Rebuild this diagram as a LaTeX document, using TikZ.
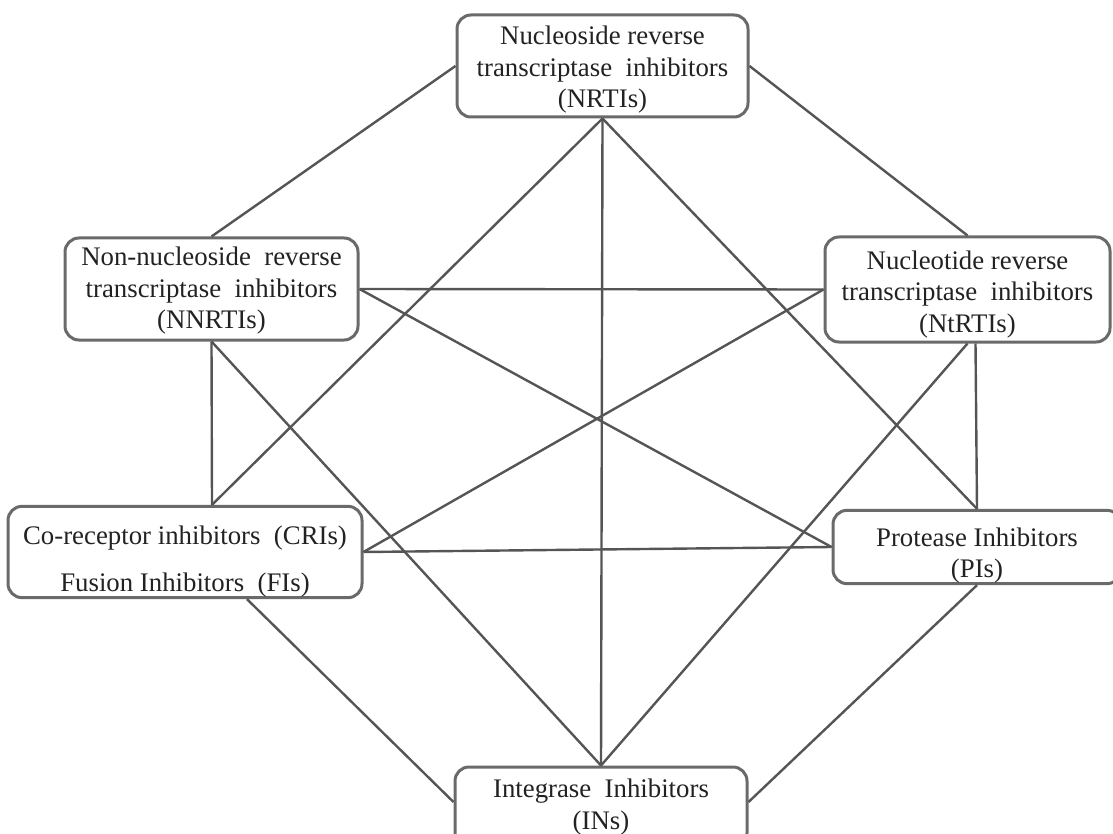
\documentclass[tikz,border=0pt]{standalone}
\usepackage{fontspec}
\setmainfont{Liberation Serif}
\definecolor{boxgray}{HTML}{6A6A6A}
\definecolor{linegray}{HTML}{555555}
\definecolor{txtgray}{HTML}{222222}
\newcommand{\lift}[1]{\rule{0pt}{#1}}
\tikzset{
  drug/.style={draw=boxgray, line width=1.5pt, rounded corners=7pt, align=center,
    inner sep=0pt, text=txtgray, font=\fontsize{13.4}{15.8}\selectfont},
  link/.style={draw=linegray, line width=1.2pt}
}
\begin{document}
\begin{tikzpicture}[x=0.5pt, y=-0.5pt]
                    \useasboundingbox (0,0) rectangle (1113,834);
                    % Boxes
                    \node[drug, minimum width=145.5pt, minimum height=51pt] (nrti) at (602.5,66) {\lift{13pt}Nucleoside reverse\\transcriptase~ inhibitors\\(NRTIs)};
                    \node[drug, minimum width=146.5pt, minimum height=51pt] (nnrti) at (211.5,289) {\lift{11pt}Non-nucleoside~ reverse\\transcriptase~ inhibitors\\(NNRTIs)};
                    \node[drug, minimum width=142.5pt, minimum height=52.5pt] (ntrti) at (967.5,289.5) {\lift{14pt}Nucleotide reverse\\transcriptase~ inhibitors\\(NtRTIs)};
                    \node[drug, minimum width=177pt, minimum height=44pt] (cri) at (185,552) {\lift{19pt}Co-receptor inhibitors~ (CRIs)\\[8pt]Fusion Inhibitors~ (FIs)};
                    \node[drug, minimum width=144pt, minimum height=36pt] (pi) at (977,547) {\lift{18pt}Protease Inhibitors\\(PIs)};
                    \node[drug, minimum width=146pt, minimum height=40pt] (ins) at (601,807) {Integrase~ Inhibitors\\(INs)};
                    % Extra end points
                    \coordinate (crin) at ([xshift=13.5pt]cri.north);
                    \coordinate (cris) at ([xshift=31pt]cri.south);
                    \coordinate (ntrtis) at ([xshift=4pt]ntrti.south);
                    \coordinate (insw) at ([yshift=2.5pt]ins.west);
                    \coordinate (inse) at ([yshift=2.5pt]ins.east);
                    % Outer ring
                    \draw[link] (nrti.west) -- (nnrti.north);
                    \draw[link] (nrti.east) -- (ntrti.north);
                    \draw[link] (nnrti.south) -- (crin);
                    \draw[link] (ntrtis) -- (pi.north);
                    \draw[link] (cris) -- (insw);
                    \draw[link] (pi.south) -- (inse);
                    % Inner lines
                    \draw[link] (nrti.south) -- (crin);
                    \draw[link] (nrti.south) -- (ins.north);
                    \draw[link] (nrti.south) -- (pi.north);
                    \draw[link] (nnrti.east) -- (ntrti.west);
                    \draw[link] (nnrti.east) -- (pi.west);
                    \draw[link] (nnrti.south) -- (ins.north);
                    \draw[link] (ntrti.west) -- (cri.east);
                    \draw[link] (ntrti.south) -- (ins.north);
                    \draw[link] (cri.east) -- (pi.west);
                \end{tikzpicture}
\end{document}
